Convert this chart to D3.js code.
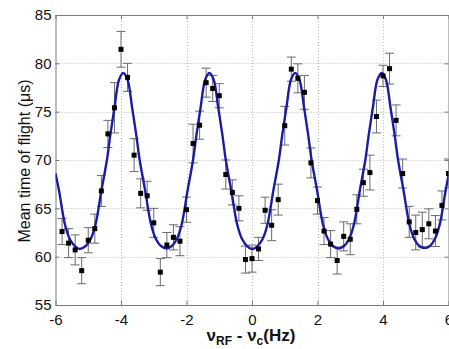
<!DOCTYPE html>
<html>
<head>
<meta charset="utf-8">
<script src="https://cdn.jsdelivr.net/npm/d3@7"></script>
<style>
    html, body { margin: 0; padding: 0; background: #fff; }
    svg { display: block; font-family: Arial, "Liberation Sans", sans-serif; }
</style>
</head>
<body>
<svg id="chart" width="449" height="349"></svg>
<script>
// measured points (detuning in Hz, mean TOF in us, error half-width)
const freq = [-5.8, -5.6, -5.4, -5.2, -5.0, -4.8, -4.6, -4.4, -4.2, -4.0,
    -3.8, -3.6, -3.4, -3.2, -3.0, -2.8, -2.6, -2.4, -2.2, -2.0,
    -1.8, -1.6, -1.4, -1.2, -1.0, -0.8, -0.6, -0.4, -0.2, 0.0,
    0.2, 0.4, 0.6, 0.8, 1.0, 1.2, 1.4, 1.6, 1.8, 2.0,
    2.2, 2.4, 2.6, 2.8, 3.0, 3.2, 3.4, 3.6, 3.8, 4.0,
    4.2, 4.4, 4.6, 4.8, 5.0, 5.2, 5.4, 5.6, 5.8, 6.0];
const tof = [62.6, 61.4, 60.7, 58.55, 61.7, 62.9, 66.8, 72.7, 75.4, 81.45,
    78.55, 70.5, 66.55, 66.3, 63.5, 58.4, 61.2, 62.0, 61.6, 64.86,
    71.7, 73.6, 78.0, 77.4, 76.65, 68.5, 66.65, 65.0, 59.7, 59.8,
    60.8, 64.8, 63.25, 65.9, 73.55, 79.4, 78.45, 77.0, 69.7, 65.8,
    62.65, 61.3, 59.6, 62.1, 61.8, 64.9, 67.65, 68.7, 74.5, 78.7,
    79.45, 74.1, 68.6, 63.6, 62.5, 62.8, 63.4, 62.65, 65.3, 68.6];
const tofErr = [1.35, 1.5, 1.55, 1.35, 1.3, 1.5, 1.6, 1.4, 2.6, 1.85,
    1.45, 1.7, 1.5, 1.5, 1.5, 1.4, 1.3, 1.3, 1.5, 1.3,
    2.0, 1.45, 1.5, 1.35, 1.25, 1.5, 1.3, 1.3, 1.4, 1.4,
    1.2, 1.35, 1.6, 1.6, 2.0, 1.25, 1.5, 1.75, 1.55, 1.4,
    1.4, 1.4, 1.4, 1.5, 1.6, 1.5, 1.4, 1.8, 1.7, 1.1,
    1.6, 1.6, 1.5, 1.6, 1.8, 1.8, 1.55, 1.6, 1.5, 1.5];

// fitted curve
const fitX = [-6.0, -5.89, -5.71, -5.56, -5.41, -5.26, -5.08, -4.93, -4.78, -4.60,
    -4.43, -4.33, -4.20, -4.06, -3.93, -3.80, -3.66, -3.53, -3.43, -3.26,
    -3.08, -2.93, -2.78, -2.61, -2.45, -2.30, -2.15, -1.97, -1.80, -1.70,
    -1.57, -1.43, -1.30, -1.17, -1.03, -0.90, -0.80, -0.63, -0.45, -0.30,
    -0.15, 0.01, 0.17, 0.32, 0.47, 0.65, 0.82, 0.92, 1.05, 1.19,
    1.32, 1.45, 1.59, 1.72, 1.82, 1.99, 2.17, 2.32, 2.47, 2.64,
    2.81, 2.96, 3.11, 3.29, 3.46, 3.56, 3.69, 3.83, 3.96, 4.09,
    4.23, 4.36, 4.46, 4.63, 4.81, 4.96, 5.11, 5.27, 5.43, 5.58,
    5.73, 5.91, 6.0];
const fitY = [68.6, 66.8, 63.3, 61.8, 61.1, 60.8, 61.1, 61.8, 63.3, 66.8,
    70.0, 72.5, 75.4, 78.3, 79.0, 78.3, 75.4, 72.5, 70.0, 66.8,
    63.3, 61.8, 61.1, 60.85, 61.1, 61.8, 63.3, 66.8, 70.0, 72.5,
    75.4, 78.3, 79.0, 78.3, 75.4, 72.5, 70.0, 66.8, 63.3, 61.8,
    61.1, 60.8, 61.1, 61.8, 63.3, 66.8, 70.0, 72.5, 75.4, 78.3,
    79.0, 78.3, 75.4, 72.5, 70.0, 66.8, 63.3, 61.8, 61.1, 60.85,
    61.1, 61.8, 63.3, 66.8, 70.0, 72.5, 75.4, 78.3, 79.0, 78.3,
    75.4, 72.5, 70.0, 66.8, 63.3, 61.8, 61.1, 60.9, 61.1, 61.8,
    63.3, 66.8, 68.4];

const xTicks = [-6, -4, -2, 0, 2, 4, 6];
const yTicks = [55, 60, 65, 70, 75, 80, 85];

const plotLeft = 55.5, plotRight = 448.5, plotTop = 15, plotBottom = 305;

const x = d3.scaleLinear().domain([-6, 6]).range([plotLeft, plotRight]);
const y = d3.scaleLinear().domain([55, 85]).range([plotBottom, plotTop]);

const svg = d3.select('#chart');

svg.append('defs')
    .append('clipPath')
    .attr('id', 'plot-clip')
    .append('rect')
    .attr('x', plotLeft)
    .attr('y', plotTop)
    .attr('width', plotRight - plotLeft)
    .attr('height', plotBottom - plotTop);

// dotted grid
const grid = svg.append('g')
    .attr('stroke', '#bdbdbd')
    .attr('stroke-width', 1)
    .attr('stroke-dasharray', '1,2');
grid.selectAll('line.gx')
    .data(xTicks.slice(1, -1))
    .enter()
    .append('line')
    .attr('class', 'gx')
    .attr('x1', (d) => Math.round(x(d)) + 0.5)
    .attr('x2', (d) => Math.round(x(d)) + 0.5)
    .attr('y1', plotTop)
    .attr('y2', plotBottom);
grid.selectAll('line.gy')
    .data(yTicks.slice(1, -1))
    .enter()
    .append('line')
    .attr('class', 'gy')
    .attr('x1', plotLeft)
    .attr('x2', plotRight)
    .attr('y1', (d) => Math.round(y(d)) + 0.5)
    .attr('y2', (d) => Math.round(y(d)) + 0.5);

// axes with inward ticks on all four sides
function styleAxis(g) {
    g.select('.domain').attr('stroke', '#7a7a7a');
    g.selectAll('.tick line').attr('stroke', '#7a7a7a');
    g.selectAll('.tick text')
        .attr('fill', '#111')
        .style('font-size', '15px');
}

const minus = (d) => String(d).replace('\u2212', '-');

svg.append('g')
    .attr('transform', `translate(0,${plotBottom})`)
    .call(d3.axisBottom(x).tickValues(xTicks).tickFormat(minus)
        .tickSizeInner(-4).tickSizeOuter(0).tickPadding(9))
    .call(styleAxis);
svg.append('g')
    .attr('transform', `translate(0,${plotTop})`)
    .call(d3.axisTop(x).tickValues(xTicks).tickFormat('')
        .tickSizeInner(-4).tickSizeOuter(0))
    .call(styleAxis);
svg.append('g')
    .attr('transform', `translate(${plotLeft},0)`)
    .call(d3.axisLeft(y).tickValues(yTicks).tickFormat(minus)
        .tickSizeInner(-4).tickSizeOuter(0).tickPadding(4))
    .call(styleAxis);
svg.append('g')
    .attr('transform', `translate(${plotRight},0)`)
    .call(d3.axisRight(y).tickValues(yTicks).tickFormat('')
        .tickSizeInner(-4).tickSizeOuter(0))
    .call(styleAxis);

const plot = svg.append('g').attr('clip-path', 'url(#plot-clip)');

const points = freq.map((f, i) => ({ f: f, t: tof[i], e: tofErr[i] }));

// error bars
const bars = plot.append('g')
    .attr('stroke', '#6a6a6a')
    .attr('stroke-width', 1)
    .attr('fill', 'none');
bars.selectAll('path')
    .data(points)
    .enter()
    .append('path')
    .attr('d', (d) => {
        const cx = x(d.f), y0 = y(d.t - d.e), y1 = y(d.t + d.e);
        return `M${cx},${y0}V${y1}M${cx - 4.5},${y1}H${cx + 4.5}M${cx - 4.5},${y0}H${cx + 4.5}`;
    });

// fitted curve
const fit = fitX.map((f, i) => [f, fitY[i]]);
plot.append('path')
    .datum(fit)
    .attr('fill', 'none')
    .attr('stroke', '#1b1ba3')
    .attr('stroke-width', 2.4)
    .attr('d', d3.line()
        .x((d) => x(d[0]))
        .y((d) => y(d[1]))
        .curve(d3.curveCatmullRom.alpha(0.5)));

// data markers
plot.append('g')
    .selectAll('rect')
    .data(points)
    .enter()
    .append('rect')
    .attr('x', (d) => x(d.f) - 2.5)
    .attr('y', (d) => y(d.t) - 2.5)
    .attr('width', 5)
    .attr('height', 5)
    .attr('fill', '#000');

// axis titles
svg.append('text')
    .attr('transform', 'translate(30,161) rotate(-90)')
    .attr('text-anchor', 'middle')
    .style('font-size', '16px')
    .attr('fill', '#111')
    .text('Mean time of flight (\u03bcs)');

const xTitle = svg.append('text')
    .attr('x', 251)
    .attr('y', 341)
    .attr('text-anchor', 'middle')
    .style('font-size', '17px')
    .style('font-weight', 'bold')
    .attr('fill', '#111');
xTitle.append('tspan').text('\u03bd');
xTitle.append('tspan').attr('dy', 4).style('font-size', '12px').text('RF');
xTitle.append('tspan').attr('dy', -4).text(' - \u03bd');
xTitle.append('tspan').attr('dy', 4).style('font-size', '12px').text('c');
xTitle.append('tspan').attr('dy', -4).text('(Hz)');
</script>
</body>
</html>
